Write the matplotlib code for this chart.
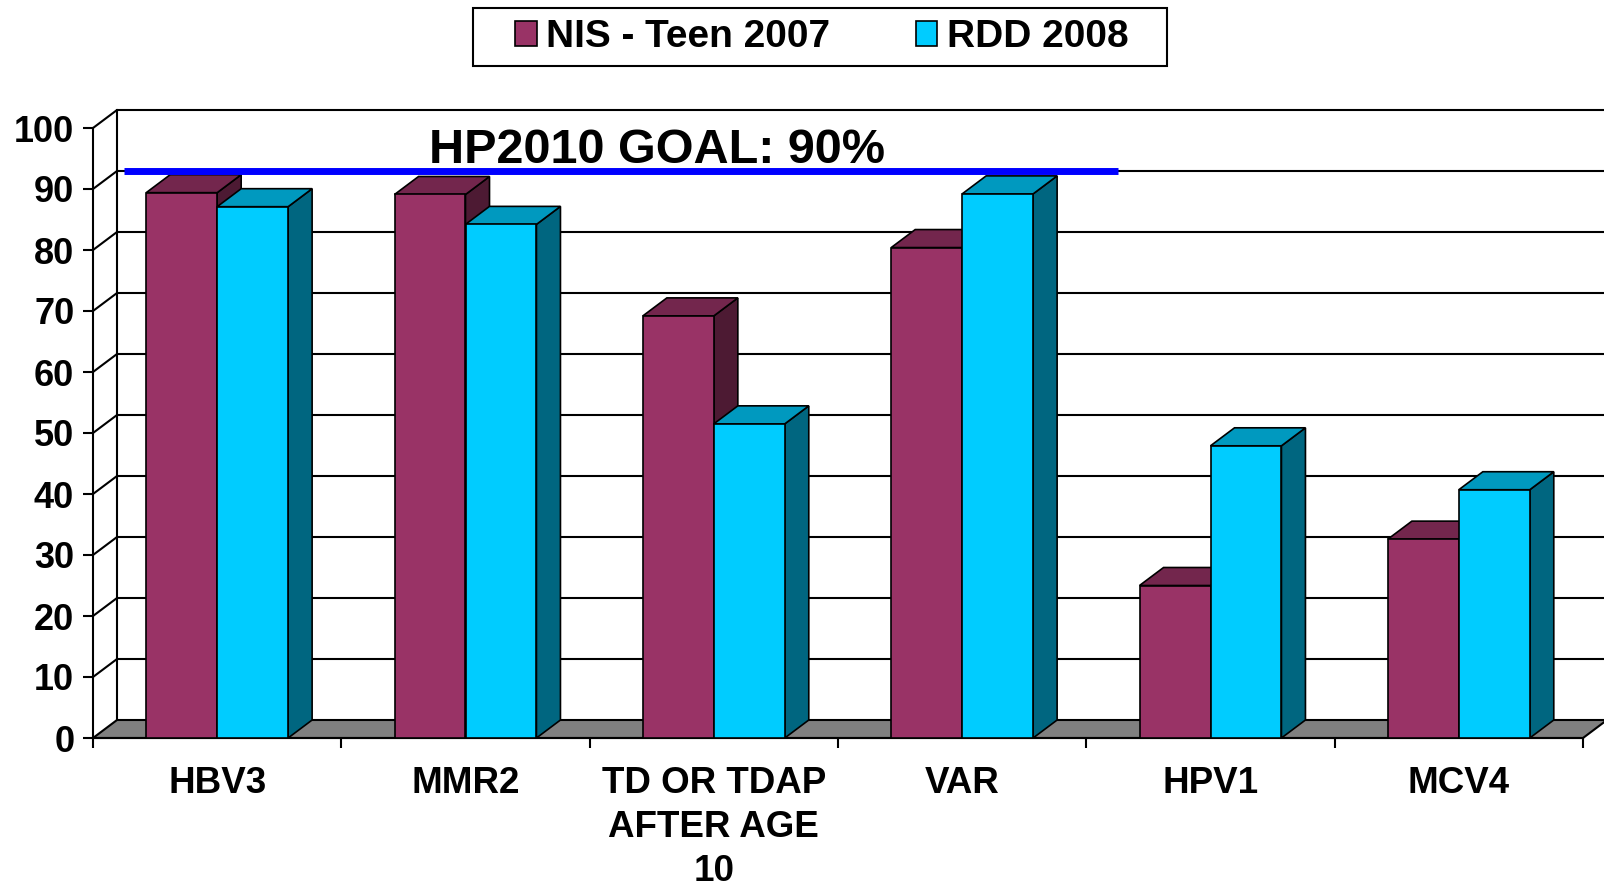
import matplotlib
matplotlib.use('Agg')
import matplotlib.pyplot as plt
from matplotlib.patches import Polygon, Patch, Rectangle
from matplotlib.transforms import IdentityTransform

categories = ['HBV3', 'MMR2', 'TD OR TDAP\nAFTER AGE\n10', 'VAR', 'HPV1', 'MCV4']
nis_teen_2007 = [89.4, 89.1, 69.2, 80.4, 25.0, 32.6]
rdd_2008 = [87.1, 84.2, 51.5, 89.2, 47.9, 40.7]
series_names = ['NIS - Teen 2007', 'RDD 2008']
y_ticks = list(range(0, 101, 10))
goal_value = 90
goal_label = 'HP2010 GOAL: 90%'

# front / top / side shades (Excel style 3D)
maroon = ('#993366', '#73264D', '#4D1A33')
cyan = ('#00CCFF', '#0099BF', '#006680')

plt.rcParams['font.family'] = ['Liberation Sans', 'DejaVu Sans']
plt.rcParams['font.weight'] = 'bold'

W, H = 1604, 890
fig = plt.figure(figsize=(W / 100, H / 100), dpi=100)
ax = fig.add_axes([93 / W, 152 / H, 1490 / W, 610 / H])
n = len(categories)
ax.set_xlim(0, n)
ax.set_ylim(0, 100)
ax.patch.set_visible(False)

# depth of the 3D box, in pixels -> data units
dx = 24 * n / 1490
dy = 18 * 100 / 610

# back wall, side-wall diagonals and gridlines
ax.plot([dx, dx], [dy, 100 + dy], color='black', lw=1.5, clip_on=False, zorder=1)
for v in y_ticks[1:]:
    ax.plot([0, dx, n + dx], [v, v + dy, v + dy], color='black', lw=1.5,
            clip_on=False, zorder=1)

# floor
ax.add_patch(Polygon([(0, 0), (n, 0), (n + dx, dy), (dx, dy)], closed=True,
                     facecolor='#808080', edgecolor='black', lw=1.5,
                     clip_on=False, zorder=2))

w = 1 / 3.5  # gap width 150%
for s, (vals, cols) in enumerate([(nis_teen_2007, maroon), (rdd_2008, cyan)]):
    z = 3 + s
    xs = [i + 0.5 - w + s * w for i in range(n)]
    for x0, h in zip(xs, vals):
        x1 = x0 + w
        ax.add_patch(Polygon([(x1, 0), (x1 + dx, dy), (x1 + dx, h + dy), (x1, h)],
                             facecolor=cols[2], edgecolor='black', lw=1.2,
                             clip_on=False, zorder=z))
        ax.add_patch(Polygon([(x0, h), (x1, h), (x1 + dx, h + dy), (x0 + dx, h + dy)],
                             facecolor=cols[1], edgecolor='black', lw=1.2,
                             clip_on=False, zorder=z))
    ax.bar(xs, vals, width=w, align='edge', color=cols[0], edgecolor='black',
           lw=1.2, zorder=z, clip_on=False)

# goal line on the back wall
ax.plot([0.03 + dx, 4.03 + dx], [goal_value + dy] * 2, color='#0000FF', lw=5,
        solid_capstyle='butt', clip_on=False, zorder=6)
ax.text(2.27, 94.3, goal_label, ha='center', va='baseline', fontsize=35,
        fontweight='bold', zorder=7)

for side in ['top', 'right']:
    ax.spines[side].set_visible(False)
for side in ['left', 'bottom']:
    ax.spines[side].set_linewidth(1.5)
    ax.spines[side].set_zorder(2.5)

ax.set_yticks(y_ticks)
ax.tick_params(axis='y', length=7.5, width=1.5, pad=6, labelsize=26)
ax.set_xticks([i + 0.5 for i in range(n)])
ax.set_xticklabels(categories, fontsize=26.5, fontweight='bold')
ax.set_xticks(range(n + 1), minor=True)
ax.tick_params(axis='x', which='major', length=0, pad=20)
ax.tick_params(axis='x', which='minor', length=7.5, width=1.5)
for lab in ax.get_xticklabels():
    lab.set_linespacing(1.33)

handles = [Patch(facecolor=maroon[0], edgecolor='black', lw=1.2),
           Patch(facecolor=cyan[0], edgecolor='black', lw=1.2)]
leg = fig.legend(handles, series_names, loc='center', bbox_to_anchor=(822 / W, 1 - 37 / H),
                 ncol=2, frameon=False, borderpad=0, handlelength=0.55, handleheight=0.62,
                 handletextpad=0.25, columnspacing=2.2,
                 prop={'size': 28, 'weight': 'bold'})
fig.canvas.draw()
bb = leg.get_window_extent()
fig.add_artist(Rectangle((bb.x0 - 42, bb.y0 - 11), bb.width + 80, bb.height + 22,
                         transform=IdentityTransform(), fill=False,
                         edgecolor='black', lw=1.5))

plt.savefig('out.png', dpi=100)
plt.close()
